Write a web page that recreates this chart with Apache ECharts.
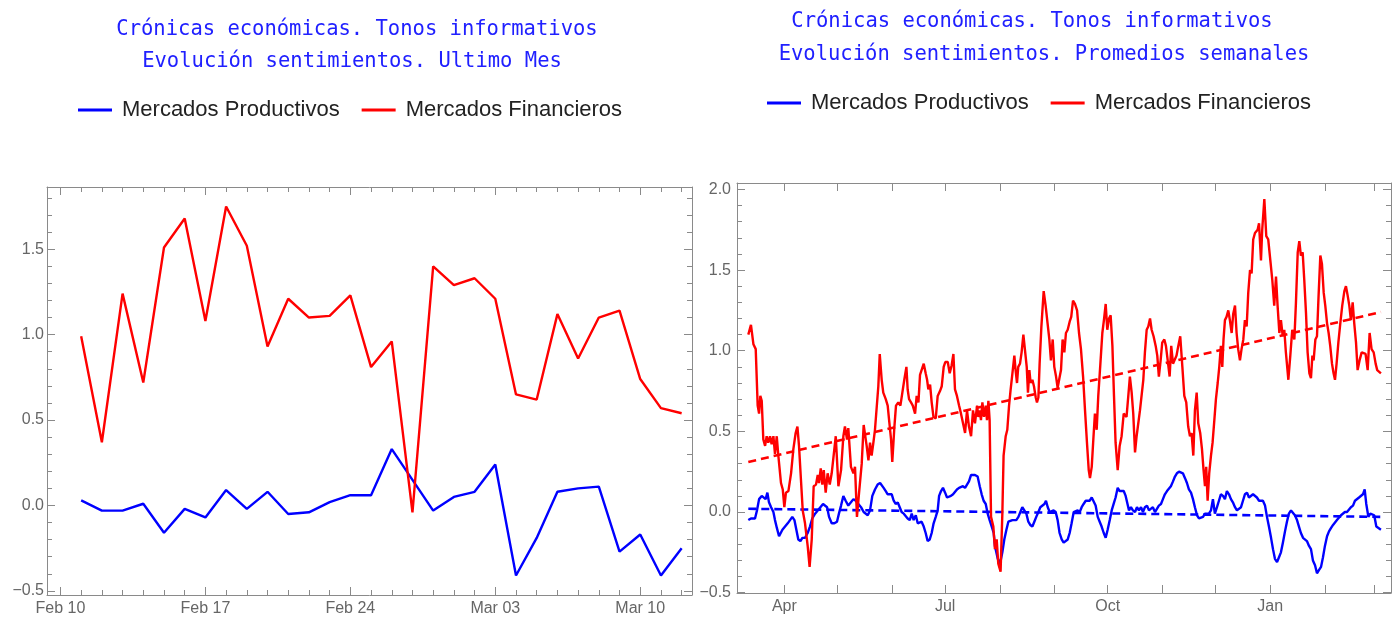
<!DOCTYPE html>
<html>
<head>
<meta charset="utf-8">
<script src="https://cdn.jsdelivr.net/npm/echarts@6/dist/echarts.min.js"></script>
<style>html,body{margin:0;padding:0;background:#fff}#c{width:1392px;height:617px}</style>
</head>
<body>
<div id="c"></div>
<script>
// ---------- texts ----------
const titleLeft = ['Crónicas económicas. Tonos informativos', 'Evolución sentimientos. Ultimo Mes'];
const titleRight = ['Crónicas económicas. Tonos informativos', 'Evolución sentimientos. Promedios semanales'];
const seriesNames = ['Mercados Productivos', 'Mercados Financieros'];

// ---------- left chart: last month, daily ----------
const dailyOrigin = '2025-02-10';
const dailyDates = ['2025-02-11','2025-02-12','2025-02-13','2025-02-14','2025-02-15','2025-02-16','2025-02-17','2025-02-18','2025-02-19','2025-02-20',
  '2025-02-21','2025-02-22','2025-02-23','2025-02-24','2025-02-25','2025-02-26','2025-02-27','2025-02-28','2025-03-01','2025-03-02',
  '2025-03-03','2025-03-04','2025-03-05','2025-03-06','2025-03-07','2025-03-08','2025-03-09','2025-03-10','2025-03-11','2025-03-12'];
const dailyProductivos = [0.03,-0.03,-0.03,0.01,-0.16,-0.02,-0.07,0.09,-0.02,0.08,-0.05,-0.04,0.02,0.06,0.06,0.33,0.15,-0.03,0.05,0.08,0.24,-0.41,-0.19,0.08,0.10,0.11,-0.27,-0.17,-0.41,-0.25];
const dailyFinancieros = [0.99,0.37,1.24,0.72,1.51,1.68,1.08,1.75,1.52,0.93,1.21,1.10,1.11,1.23,0.81,0.96,-0.04,1.40,1.29,1.33,1.21,0.65,0.62,1.12,0.86,1.10,1.14,0.74,0.57,0.54];
const dailyTickDates = ['2025-02-10','2025-02-17','2025-02-24','2025-03-03','2025-03-10'];
const dailyTickLabels = ['Feb 10','Feb 17','Feb 24','Mar 03','Mar 10'];

// ---------- right chart: weekly averages, [days since weeklyOrigin, value] ----------
const weeklyOrigin = '2024-04-01';
const weeklyFinancieros = [
[-20.4,1.10],[-18.9,1.16],[-17.5,1.04],[-16.2,1.01],[-15.1,0.66],[-14.3,0.61],[-13.6,0.72],[-12.8,0.69],[-11.9,0.45],[-10.9,0.41],[-10.0,0.47],[-9.1,0.43],[-8.1,0.47],[-7.2,0.42],[-6.2,0.47],[-5.3,0.36],[-4.3,0.47],[-3.4,0.35],[-1.9,0.18],[-0.9,0.14],[0,0.03],[0.9,0.12],[2.3,0.13],[3.8,0.24],[5.1,0.39],[6.4,0.49],[7.4,0.53],[8.3,0.41],[9.4,0.20],[10.4,0.01],[11.7,-0.07],[13.2,-0.21],[14.3,-0.34],[15.5,-0.17],[16.6,0.16],[17.9,0.17],[18.9,0.23],[19.6,0.18],[20.6,0.27],[21.5,0.17],[22.3,0.26],[23.4,0.12],[24.5,0.24],[25.7,0.17],[26.8,0.24],[28.1,0.37],[29.1,0.47],[30.6,0.16],[32.1,0.26],[33.4,0.47],[34.3,0.53],[35.5,0.45],[36.2,0.52],[37.7,0.28],[39.1,0.24],[40.0,0.28],[41.1,-0.03],[42.3,0.12],[43.8,0.30],[44.9,0.54],
[45.7,0.53],[46.6,0.41],[47.6,0.32],[48.5,0.43],[49.4,0.35],[50.4,0.43],[51.3,0.51],[52.3,0.51],[53.2,0.78],[54.0,0.98],[55.1,0.82],[56.0,0.74],[57.4,0.70],[58.5,0.66],[59.3,0.57],[60.4,0.45],[61.1,0.31],[62.3,0.53],[63.2,0.66],[64.5,0.68],[65.7,0.66],[66.8,0.74],[67.9,0.82],[69.1,0.90],[69.8,0.76],[70.6,0.70],[71.7,0.68],[72.7,0.66],[74.0,0.61],[74.9,0.72],[75.9,0.68],[76.8,0.85],[77.7,0.86],[78.9,0.92],[80.0,0.86],[80.8,0.82],[81.5,0.76],[82.5,0.79],[83.4,0.68],[84.4,0.59],[85.7,0.58],[86.8,0.72],[88.1,0.75],[89.1,0.78],[90.2,0.90],[91.1,0.93],[92.5,0.93],[93.6,0.86],[94.7,0.91],[95.7,0.98],[96.6,0.76],[97.7,0.72],[98.9,0.66],[100.0,0.61],[101.1,0.61],[102.3,0.49],[103.4,0.63],[104.5,0.53],[105.7,0.47],[106.8,0.63],[107.9,0.55],[109.1,0.66],[109.8,0.59],[110.6,0.63],[111.3,0.57],[112.1,0.68],[113.0,0.59],[114.0,0.66],[114.7,0.57],[115.5,0.69],[116.2,0.57],[117.0,-0.03],[118.3,-0.09],
[119.2,-0.23],[120.2,-0.17],[121.1,-0.32],[122.4,-0.37],[123.4,-0.01],[124.1,0.35],[125.3,0.47],[126.2,0.51],[127.2,0.66],[128.1,0.76],[129.1,0.86],[130.2,0.97],[130.9,0.88],[131.7,0.80],[132.4,0.90],[133.4,0.92],[134.3,0.99],[135.3,1.10],[136.2,1.09],[137.2,0.90],[137.9,0.74],[138.7,0.88],[139.4,0.80],[140.4,0.82],[141.3,0.78],[142.3,0.71],[143.0,0.68],[143.8,0.71],[144.5,0.92],[145.5,1.15],[146.8,1.37],[147.9,1.28],[149.0,1.17],[150.0,1.07],[150.9,0.94],[151.9,1.07],[152.8,0.90],[153.8,0.84],[154.7,0.77],[155.7,0.83],[156.6,0.88],[157.5,1.07],[158.5,0.99],[159.4,1.11],[160.4,1.13],[161.5,1.18],[162.4,1.21],[163.4,1.31],[164.5,1.29],[165.7,1.25],[166.8,1.11],[167.9,1.01],[169.1,0.84],[170.2,0.63],[171.3,0.43],[172.3,0.26],[173.0,0.21],[174.0,0.28],[174.9,0.45],[175.8,0.61],[176.8,0.51],[177.7,0.72],[178.9,0.92],[180.0,1.11],[180.9,1.19],[181.9,1.29],[182.8,1.13],[183.8,1.20],[184.7,1.22],[185.7,1.03],[186.6,0.72],[187.5,0.43],[188.7,0.26],[189.8,0.41],[190.9,0.47],[192.1,0.61],
[193.7,0.59],[194.7,0.72],[195.6,0.84],[196.6,0.74],[197.5,0.61],[198.5,0.37],[199.4,0.47],[200.3,0.47],[201.3,0.63],[202.2,0.63],[203.2,0.82],[204.1,0.99],[205.1,1.13],[206.0,1.15],[207.0,1.20],[207.9,1.13],[209.0,1.09],[210.2,1.03],[211.1,0.97],[212.0,0.84],[213.0,0.94],[213.9,1.05],[215.1,1.07],[216.0,1.03],[217.0,0.94],[218.1,0.84],[219.0,1.03],[220.0,0.92],[221.1,0.93],[222.0,0.97],[223.0,1.03],[224.1,1.09],[225.3,0.90],[226.4,0.72],[227.5,0.68],[228.6,0.53],[229.6,0.47],[230.5,0.49],[231.5,0.35],[232.4,0.63],[233.4,0.74],[234.3,0.55],[235.4,0.49],[236.4,0.39],[237.3,0.26],[238.1,0.16],[238.8,0.28],[239.6,0.07],[240.5,0.24],[241.5,0.35],[242.4,0.43],[243.4,0.57],[244.3,0.70],[245.3,0.80],[246.2,0.90],[247.1,1.03],[247.9,0.90],[248.6,1.07],[249.4,1.19],[250.3,1.21],[251.3,1.25],[252.2,1.19],[253.2,1.11],[254.1,1.23],[255.1,1.28],[256.0,1.11],[256.9,1.01],[257.9,0.94],[258.8,1.01],[259.8,1.07],[260.7,1.19],[261.7,1.15],[262.6,1.36],[263.6,1.50],[264.5,1.48],[265.4,1.69],
[266.4,1.73],[267.9,1.75],[268.7,1.79],[269.8,1.56],[270.5,1.75],[271.7,1.94],[272.8,1.71],[273.9,1.69],[275.1,1.56],[276.2,1.44],[277.3,1.28],[278.3,1.46],[279.2,1.28],[280.2,1.11],[281.1,1.19],[282.1,1.09],[283.0,1.13],[283.9,0.99],[285.3,0.82],[286.4,0.97],[287.5,1.13],[288.7,1.07],[289.6,1.30],[290.6,1.61],[291.5,1.68],[292.4,1.59],[293.4,1.61],[294.3,1.44],[295.3,1.23],[296.2,0.99],[297.2,0.86],[298.1,0.83],[298.9,0.97],[299.6,0.94],[300.6,1.07],[301.5,1.09],[302.4,1.34],[303.4,1.59],[304.3,1.54],[305.3,1.36],[306.2,1.28],[307.2,1.17],[308.1,1.11],[309.0,1.03],[310.0,0.92],[310.9,0.86],[311.7,0.82],[312.6,0.92],[313.6,1.05],[314.7,1.17],[315.8,1.28],[317.0,1.37],[317.9,1.40],[318.9,1.34],[319.8,1.28],[320.7,1.19],[321.7,1.30],[322.6,1.17],[323.6,1.05],[324.5,0.88],[325.6,0.94],[326.8,0.99],[327.9,1.00],[329.0,0.98],[330.2,0.88],[331.3,1.11],[332.4,1.01],[333.6,0.99],[334.7,0.92],[335.6,0.88],[336.6,0.87],[337.7,0.86]
];
const weeklyProductivos = [
[-20.4,-0.05],[-18.9,-0.04],[-16.6,-0.04],[-15.5,0.01],[-14.3,0.08],[-12.8,0.10],[-11.7,0.10],[-10.6,0.08],[-9.6,0.12],[-8.7,0.06],[-7.5,0.03],[-6.2,0.00],[-5.3,-0.05],[-4.2,-0.10],[-3.0,-0.15],[-2.1,-0.16],[-1.1,-0.11],[0.4,-0.09],[1.9,-0.07],[3.2,-0.05],[4.5,-0.03],[5.7,-0.05],[6.8,-0.11],[7.9,-0.17],[9.1,-0.18],[10.2,-0.16],[11.7,-0.16],[13.2,-0.13],[14.5,-0.09],[15.8,-0.04],[17.4,-0.01],[18.9,0.01],[20.4,0.03],[21.9,0.05],[23.0,0.06],[24.2,0.03],[25.3,-0.03],[26.8,-0.07],[28.3,-0.07],[29.8,-0.06],[30.9,-0.01],[32.1,0.04],[33.4,0.10],[34.7,0.07],[36.2,0.04],[37.7,0.06],[39.1,0.08],[40.4,0.07],[41.9,0.05],[43.4,0.03],[44.9,0.00],
[45.7,0.01],[47.2,-0.02],[48.5,0.01],[49.8,0.10],[51.3,0.14],[52.8,0.17],[54.2,0.18],[55.1,0.19],[56.2,0.15],[57.4,0.13],[58.5,0.11],[59.6,0.10],[60.8,0.11],[61.9,0.07],[63.0,0.05],[64.2,0.06],[65.3,0.03],[66.4,0.00],[67.6,-0.01],[68.7,-0.01],[69.8,-0.04],[71.0,-0.05],[72.1,-0.01],[73.2,-0.05],[74.4,-0.02],[75.5,-0.07],[76.6,-0.08],[77.7,-0.06],[78.9,-0.09],[80.0,-0.13],[81.1,-0.18],[82.3,-0.17],[83.4,-0.13],[84.5,-0.07],[85.7,-0.03],[86.8,0.01],[87.6,0.10],[88.7,0.13],[89.8,0.15],[91.0,0.12],[92.1,0.09],[93.2,0.09],[94.3,0.10],[95.5,0.11],[96.6,0.12],[97.7,0.14],[98.9,0.15],[100.0,0.16],[101.1,0.16],[102.3,0.15],[103.4,0.17],[104.5,0.19],[105.7,0.23],[106.8,0.24],[107.9,0.23],[109.4,0.22],[110.6,0.16],[111.7,0.11],[112.8,0.07],[114.0,0.05],[115.1,-0.01],[116.2,-0.05],[117.4,-0.09],[118.5,-0.13],
[119.2,-0.21],[120.8,-0.29],[122.1,-0.32],[123.4,-0.25],[124.5,-0.17],[125.7,-0.11],[126.8,-0.06],[127.9,-0.06],[129.1,-0.05],[130.2,-0.04],[131.3,-0.05],[132.5,-0.03],[133.6,0.00],[134.7,0.03],[135.8,0.03],[137.0,-0.01],[138.1,-0.06],[139.2,-0.08],[140.4,-0.09],[141.5,-0.06],[142.6,-0.03],[143.8,0.00],[144.9,0.03],[146.0,0.04],[147.2,0.05],[148.1,0.07],[149.1,0.03],[150.2,0.00],[151.3,-0.01],[152.4,0.01],[153.6,0.00],[154.7,-0.05],[155.8,-0.13],[157.0,-0.17],[158.1,-0.19],[159.2,-0.19],[160.4,-0.17],[161.5,-0.13],[162.6,-0.07],[163.8,0.00],[164.9,0.01],[166.0,0.01],[167.2,0.00],[168.3,0.03],[169.4,0.05],[170.6,0.07],[171.7,0.06],[172.8,0.07],[174.0,0.09],[175.1,0.08],[176.2,0.04],[177.4,-0.03],[178.5,-0.06],[179.6,-0.09],[180.8,-0.13],[181.9,-0.16],[183.0,-0.11],[184.2,-0.05],[185.3,0.01],[186.4,0.05],[187.5,0.09],[188.7,0.15],[189.8,0.13],[190.9,0.12],[192.1,0.13],[193.2,0.10],
[195.1,0.01],[196.2,0.03],[197.3,0.01],[198.5,0.00],[199.6,0.03],[200.7,0.01],[201.9,0.03],[203.0,0.00],[204.1,0.03],[205.3,0.04],[206.4,0.01],[207.5,0.00],[208.6,0.03],[209.8,0.00],[210.9,-0.01],[212.0,0.04],[213.2,0.05],[214.3,0.08],[215.4,0.11],[216.6,0.13],[217.7,0.14],[218.8,0.16],[220.0,0.19],[221.1,0.22],[222.2,0.24],[223.4,0.25],[224.5,0.24],[225.6,0.24],[226.8,0.21],[227.9,0.18],[229.0,0.14],[230.2,0.12],[231.3,0.08],[232.4,0.03],[233.6,-0.02],[234.7,-0.04],[235.8,-0.04],[237.0,-0.03],[238.1,-0.01],[239.2,0.00],[240.3,-0.01],[241.5,0.01],[242.6,0.08],[243.7,-0.01],[244.9,0.03],[246.0,0.07],[247.1,0.11],[248.3,0.10],[249.4,0.08],[250.5,0.13],[251.7,0.11],[252.8,0.08],[253.9,0.06],[255.1,0.03],[256.2,0.01],[257.3,0.01],[258.5,0.03],[259.6,0.07],[260.7,0.11],[261.9,0.12],[263.0,0.09],[264.1,0.10],[265.3,0.11],
[266.4,0.10],[267.5,0.09],[268.7,0.07],[269.8,0.06],[270.9,0.07],[272.1,0.04],[273.2,-0.03],[274.3,-0.09],[275.5,-0.16],[276.6,-0.23],[277.7,-0.29],[278.9,-0.31],[280.0,-0.28],[281.1,-0.25],[282.2,-0.19],[283.4,-0.12],[284.5,-0.06],[285.6,-0.01],[286.8,0.01],[287.9,0.01],[289.0,-0.02],[290.2,-0.05],[291.3,-0.09],[292.4,-0.13],[293.6,-0.16],[294.7,-0.17],[295.8,-0.18],[297.0,-0.21],[298.1,-0.23],[299.2,-0.30],[300.4,-0.33],[301.5,-0.38],[302.6,-0.36],[303.8,-0.34],[304.9,-0.28],[306.0,-0.21],[307.2,-0.15],[308.3,-0.12],[309.4,-0.10],[310.6,-0.08],[311.7,-0.07],[312.8,-0.05],[313.9,-0.04],[315.1,-0.02],[316.2,-0.01],[317.3,0.00],[318.5,0.00],[319.6,0.01],[320.7,0.03],[321.9,0.04],[323.0,0.07],[324.1,0.08],[325.3,0.09],[326.4,0.10],[327.5,0.11],[328.5,0.14],[329.4,0.05],[330.6,-0.03],[331.7,-0.01],[332.8,0.00],[333.9,-0.02],[335.1,-0.09],[336.2,-0.10],[337.7,-0.11]
];
const trendProductivos = [[-20.4,0.02],[337.7,-0.03]];
const trendFinancieros = [[-20.4,0.31],[337.7,1.24]];
const weeklyTickDates = ['2024-04-01','2024-05-01','2024-06-01','2024-07-01','2024-08-01','2024-09-01','2024-10-01','2024-11-01','2024-12-01','2025-01-01','2025-02-01','2025-03-01'];
const weeklyTickLabels = ['Apr','','','Jul','','','Oct','','','Jan','',''];

// ---------- helpers ----------
const DAY = 86400000;
const dayOff = (s, o) => Math.round((Date.parse(s) - Date.parse(o)) / DAY);
const steps = (a, b, st) => { const r = []; for (let i = 0; a + i * st <= b + 1e-9; i++) r.push(+(a + i * st).toFixed(4)); return r; };
const fmtNum = v => (v < 0 ? '\u2212' : '') + Math.abs(v).toFixed(1);

const FRAME = '#8a8a8a';
const LABEL = '#666666';
const LABEL_FONT = "'Liberation Sans',Arial,sans-serif";

const xAxes = [], yAxes = [];
function addAxes(list, grid, sides, min, max, majors, minors, fmt, margin) {
  const first = list.length;
  sides.forEach((pos, si) => {
    const base = { type: 'value', gridIndex: grid, position: pos, min: min, max: max, splitLine: { show: false }, z: 5 };
    list.push(Object.assign({}, base, {
      axisLine: { show: true, onZero: false, lineStyle: { color: FRAME, width: 1 } },
      axisTick: { show: true, inside: true, length: 8, customValues: majors, lineStyle: { color: FRAME, width: 1 } },
      axisLabel: si === 0 ? { show: true, customValues: majors, formatter: fmt, color: LABEL, fontSize: 16, fontFamily: LABEL_FONT, margin: margin } : { show: false }
    }));
    if (minors && minors.length) {
      list.push(Object.assign({}, base, {
        axisLine: { show: false, onZero: false },
        axisTick: { show: true, inside: true, length: 5, customValues: minors, lineStyle: { color: FRAME, width: 1 } },
        axisLabel: { show: false }
      }));
    }
  });
  return first;
}

// left chart axes
const leftTickDays = dailyTickDates.map(s => dayOff(s, dailyOrigin));
const leftX = addAxes(xAxes, 0, ['bottom', 'top'], -0.65, 30.5, leftTickDays, steps(0, 30, 1),
  v => { const i = leftTickDays.indexOf(Math.round(v)); return i >= 0 ? dailyTickLabels[i] : ''; }, 6);
const leftY = addAxes(yAxes, 0, ['left', 'right'], -0.524, 1.864, [-0.5, 0, 0.5, 1, 1.5], steps(-0.5, 1.8, 0.1), fmtNum, 3);

// right chart axes
const rightTickDays = weeklyTickDates.map(s => dayOff(s, weeklyOrigin));
const rightX = addAxes(xAxes, 1, ['bottom', 'top'], -26.8, 343.4, rightTickDays, null,
  v => { const i = rightTickDays.indexOf(Math.round(v)); return i >= 0 ? weeklyTickLabels[i] : ''; }, 6);
const rightY = addAxes(yAxes, 1, ['left', 'right'], -0.502, 2.04, [-0.5, 0, 0.5, 1, 1.5, 2], steps(-0.5, 2.0, 0.1), fmtNum, 6);

const dailyProdData = dailyDates.map((s, i) => [dayOff(s, dailyOrigin), dailyProductivos[i]]);
const dailyFinData = dailyDates.map((s, i) => [dayOff(s, dailyOrigin), dailyFinancieros[i]]);

const BLUE = '#0000ff', RED = '#ff0000';
function lineSeries(name, data, xi, yi, color, dashed) {
  return {
    name: name, type: 'line', xAxisIndex: xi, yAxisIndex: yi, data: data,
    showSymbol: false, symbol: 'none', silent: true, z: dashed ? 3 : 4,
    lineStyle: { color: color, width: dashed ? 2.6 : 2.4, type: dashed ? [8, 5] : 'solid' },
    itemStyle: { color: color }
  };
}

const TITLE_FONT = "20.5px 'DejaVu Sans Mono', monospace";
const TITLE_COLOR = '#2020ff';
function titleText(text, x, y) {
  return { type: 'text', x: x, y: y, silent: true,
    style: { text: text, font: TITLE_FONT, fill: TITLE_COLOR, align: 'center', verticalAlign: 'middle', textAlign: 'center', textVerticalAlign: 'middle' } };
}

const legendBase = {
  data: seriesNames, orient: 'horizontal', icon: 'rect', itemWidth: 34, itemHeight: 3, itemGap: 22,
  selectedMode: false, padding: 0,
  textStyle: { fontSize: 22, color: '#222', fontFamily: "'Liberation Sans',Arial,sans-serif", padding: [0, 0, 0, 5] }
};

const option = {
  backgroundColor: '#ffffff',
  animation: false,
  grid: [
    { left: 47, right: 700, top: 187, bottom: 22, containLabel: false, outerBoundsMode: 'none' },
    { left: 737, right: 1, top: 183, bottom: 24, containLabel: false, outerBoundsMode: 'none' }
  ],
  graphic: [
    titleText(titleLeft[0], 357, 30),
    titleText(titleLeft[1], 352, 62),
    titleText(titleRight[0], 1032, 22),
    titleText(titleRight[1], 1044, 55)
  ],
  legend: [
    Object.assign({}, legendBase, { left: 78, top: 99 }),
    Object.assign({}, legendBase, { left: 767, top: 92 })
  ],
  xAxis: xAxes,
  yAxis: yAxes,
  series: [
    lineSeries(seriesNames[0], dailyProdData, leftX, leftY, BLUE, false),
    lineSeries(seriesNames[1], dailyFinData, leftX, leftY, RED, false),
    lineSeries('Tendencia ' + seriesNames[0], trendProductivos, rightX, rightY, BLUE, true),
    lineSeries('Tendencia ' + seriesNames[1], trendFinancieros, rightX, rightY, RED, true),
    lineSeries(seriesNames[0], weeklyProductivos, rightX, rightY, BLUE, false),
    lineSeries(seriesNames[1], weeklyFinancieros, rightX, rightY, RED, false)
  ]
};

const chart = echarts.init(document.getElementById('c'), null, { renderer: 'canvas' });
chart.setOption(option);
</script>
</body>
</html>
